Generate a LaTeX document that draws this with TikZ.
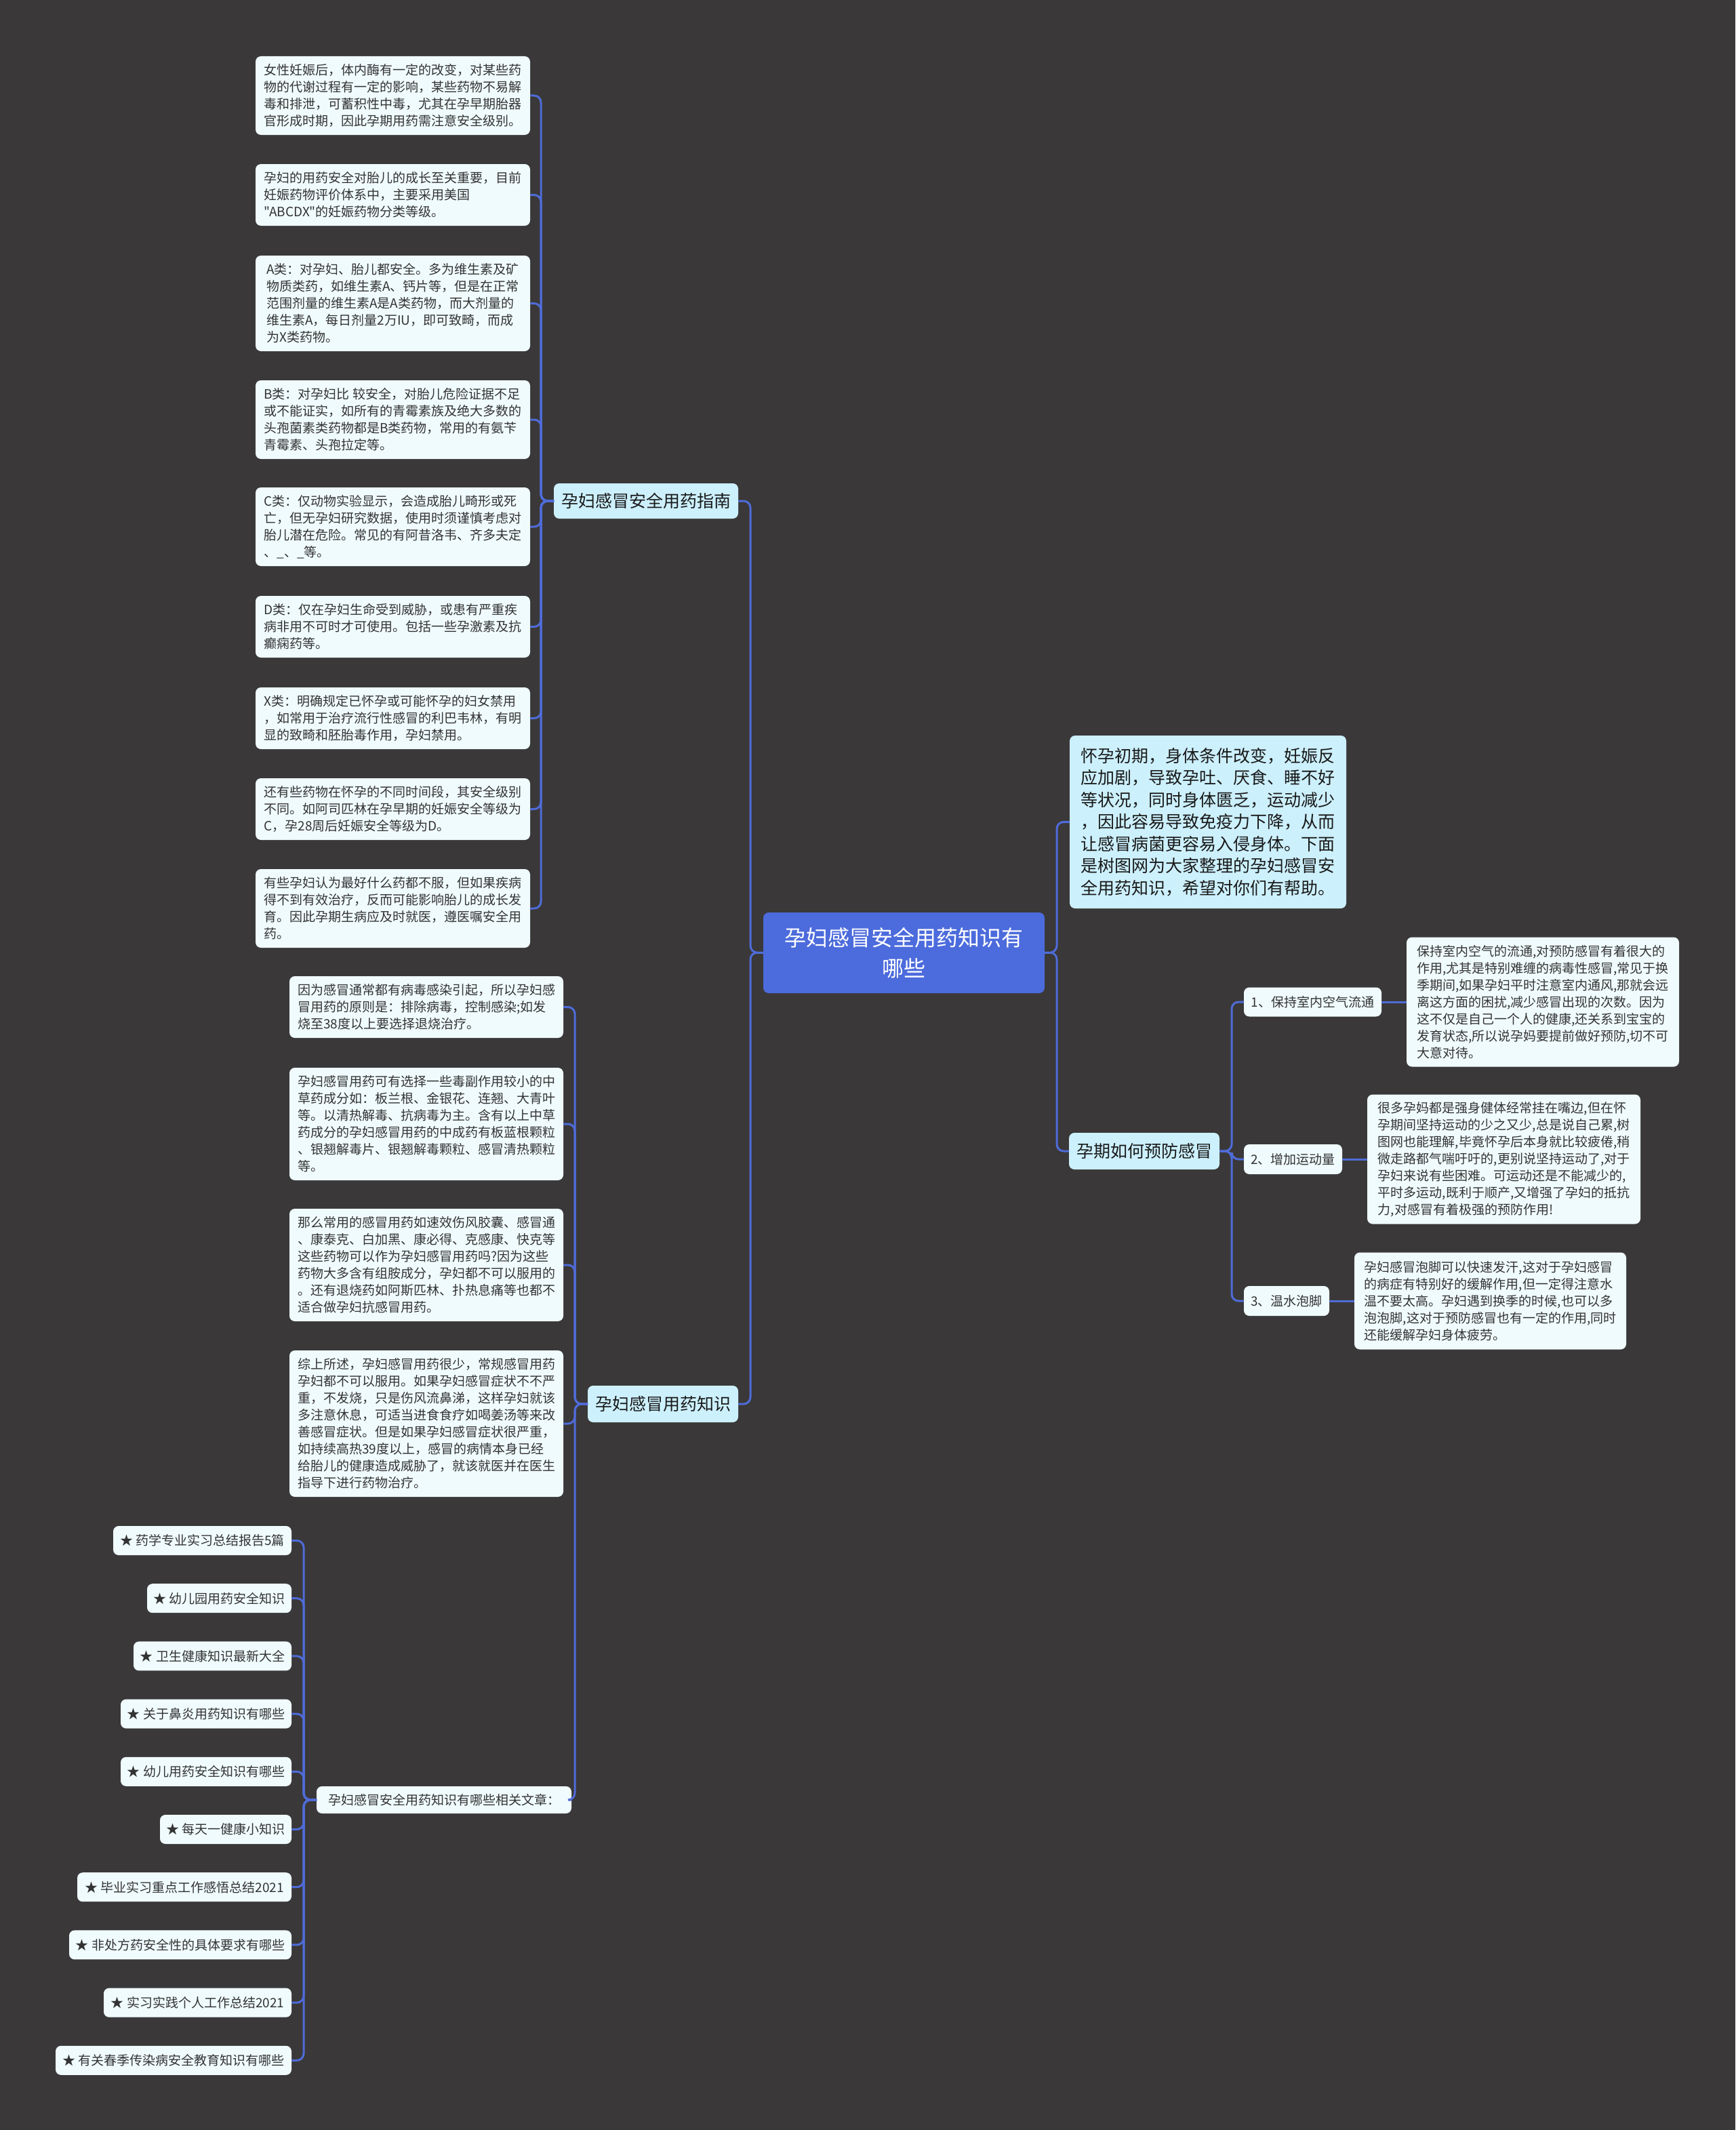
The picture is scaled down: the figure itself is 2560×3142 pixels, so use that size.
\documentclass[tikz,border=0pt]{standalone}
\usepackage{fontspec}
\setmainfont{Noto Sans CJK SC}[Ligatures=TeXOff]
\definecolor{bgc}{HTML}{3A3839}
\definecolor{leaff}{HTML}{F0FBFD}
\definecolor{lvf}{HTML}{CCF0FC}
\definecolor{rootf}{HTML}{4C6BDC}
\definecolor{linec}{HTML}{4F6CD8}
\definecolor{txt}{HTML}{333333}
\begin{document}
\begin{tikzpicture}[x=1pt,y=-1pt,
  box/.style={rounded corners=8pt, inner sep=0pt, outer sep=0pt, align=left},
  leaf/.style={box, fill=leaff, text=txt, font=\fontsize{19}{25}\selectfont},
  lvl/.style={box, fill=lvf, text=black!90, font=\fontsize{25}{32.5}\selectfont},
  rootn/.style={box, fill=rootf, text=white, align=center, font=\fontsize{32}{45}\selectfont},
  conn/.style={draw=linec, line width=3pt, rounded corners=10pt}]
\useasboundingbox (0,0) rectangle (2560,3142);
\fill[bgc] (0,0) rectangle (2560,3142);

% root
\node[rootn, anchor=north west, minimum width=415pt, minimum height=119pt] (root) at (1126,1346) {孕妇感冒安全用药知识有\\哪些};

% level 1
\node[lvl, anchor=west, minimum width=272pt, minimum height=52pt] (b1) at (817,739) {孕妇感冒安全用药指南};
\node[lvl, anchor=west, minimum width=222pt, minimum height=54pt] (b2) at (867,2071) {孕妇感冒用药知识};
\node[lvl, anchor=west, minimum width=222pt, minimum height=54pt] (b3) at (1577,1698) {孕期如何预防感冒};
\node[lvl, anchor=north west, minimum width=408pt, minimum height=255pt] (hot) at (1578,1085) {怀孕初期，身体条件改变，妊娠反\\应加剧，导致孕吐、厌食、睡不好\\等状况，同时身体匮乏，运动减少\\，因此容易导致免疫力下降，从而\\让感冒病菌更容易入侵身体。下面\\是树图网为大家整理的孕妇感冒安\\全用药知识，希望对你们有帮助。};

% branch 1 leaves
\node[leaf, anchor=north west, minimum width=405pt, minimum height=116pt] (a1) at (377,83) {女性妊娠后，体内酶有一定的改变，对某些药\\物的代谢过程有一定的影响，某些药物不易解\\毒和排泄，可蓄积性中毒，尤其在孕早期胎器\\官形成时期，因此孕期用药需注意安全级别。};
\node[leaf, anchor=north west, minimum width=405pt, minimum height=91pt] (a2) at (377,242) {孕妇的用药安全对胎儿的成长至关重要，目前\\妊娠药物评价体系中，主要采用美国\\"ABCDX"的妊娠药物分类等级。};
\node[leaf, anchor=north west, minimum width=405pt, minimum height=141pt] (a3) at (377,377) {A类：对孕妇、胎儿都安全。多为维生素及矿\\物质类药，如维生素A、钙片等，但是在正常\\范围剂量的维生素A是A类药物，而大剂量的\\维生素A，每日剂量2万IU，即可致畸，而成\\为X类药物。};
\node[leaf, anchor=north west, minimum width=405pt, minimum height=116pt] (a4) at (377,561) {B类：对孕妇比 较安全，对胎儿危险证据不足\\或不能证实，如所有的青霉素族及绝大多数的\\头孢菌素类药物都是B类药物，常用的有氨苄\\青霉素、头孢拉定等。};
\node[leaf, anchor=north west, minimum width=405pt, minimum height=116pt] (a5) at (377,719) {C类：仅动物实验显示，会造成胎儿畸形或死\\亡，但无孕妇研究数据，使用时须谨慎考虑对\\胎儿潜在危险。常见的有阿昔洛韦、齐多夫定\\、\_、\_等。};
\node[leaf, anchor=north west, minimum width=405pt, minimum height=91pt] (a6) at (377,879) {D类：仅在孕妇生命受到威胁，或患有严重疾\\病非用不可时才可使用。包括一些孕激素及抗\\癫痫药等。};
\node[leaf, anchor=north west, minimum width=405pt, minimum height=91pt] (a7) at (377,1014) {X类：明确规定已怀孕或可能怀孕的妇女禁用\\，如常用于治疗流行性感冒的利巴韦林，有明\\显的致畸和胚胎毒作用，孕妇禁用。};
\node[leaf, anchor=north west, minimum width=405pt, minimum height=91pt] (a8) at (377,1148) {还有些药物在怀孕的不同时间段，其安全级别\\不同。如阿司匹林在孕早期的妊娠安全等级为\\C，孕28周后妊娠安全等级为D。};
\node[leaf, anchor=north west, minimum width=405pt, minimum height=116pt] (a9) at (377,1282) {有些孕妇认为最好什么药都不服，但如果疾病\\得不到有效治疗，反而可能影响胎儿的成长发\\育。因此孕期生病应及时就医，遵医嘱安全用\\药。};

% branch 2 leaves
\node[leaf, anchor=north west, minimum width=404pt, minimum height=91pt] (c1) at (427,1440) {因为感冒通常都有病毒感染引起，所以孕妇感\\冒用药的原则是：排除病毒，控制感染;如发\\烧至38度以上要选择退烧治疗。};
\node[leaf, anchor=north west, minimum width=404pt, minimum height=166pt] (c2) at (427,1575) {孕妇感冒用药可有选择一些毒副作用较小的中\\草药成分如：板兰根、金银花、连翘、大青叶\\等。以清热解毒、抗病毒为主。含有以上中草\\药成分的孕妇感冒用药的中成药有板蓝根颗粒\\、银翘解毒片、银翘解毒颗粒、感冒清热颗粒\\等。};
\node[leaf, anchor=north west, minimum width=404pt, minimum height=166pt] (c3) at (427,1783) {那么常用的感冒用药如速效伤风胶囊、感冒通\\、康泰克、白加黑、康必得、克感康、快克等\\这些药物可以作为孕妇感冒用药吗?因为这些\\药物大多含有组胺成分，孕妇都不可以服用的\\。还有退烧药如阿斯匹林、扑热息痛等也都不\\适合做孕妇抗感冒用药。};
\node[leaf, anchor=north west, minimum width=404pt, minimum height=216pt] (c4) at (427,1992) {综上所述，孕妇感冒用药很少，常规感冒用药\\孕妇都不可以服用。如果孕妇感冒症状不不严\\重，不发烧，只是伤风流鼻涕，这样孕妇就该\\多注意休息，可适当进食食疗如喝姜汤等来改\\善感冒症状。但是如果孕妇感冒症状很严重，\\如持续高热39度以上，感冒的病情本身已经\\给胎儿的健康造成威胁了，就该就医并在医生\\指导下进行药物治疗。};
\node[leaf, anchor=east, minimum width=376pt, minimum height=40pt] (c5) at (843,2655) {孕妇感冒安全用药知识有哪些相关文章：};

% related articles
\node[leaf, anchor=east, minimum width=263pt, minimum height=43pt] (r1) at (430,2272.5) {★ 药学专业实习总结报告5篇};
\node[leaf, anchor=east, minimum width=213pt, minimum height=43pt] (r2) at (430,2357.7) {★ 幼儿园用药安全知识};
\node[leaf, anchor=east, minimum width=233pt, minimum height=43pt] (r3) at (430,2442.9) {★ 卫生健康知识最新大全};
\node[leaf, anchor=east, minimum width=252pt, minimum height=43pt] (r4) at (430,2528.1) {★ 关于鼻炎用药知识有哪些};
\node[leaf, anchor=east, minimum width=252pt, minimum height=43pt] (r5) at (430,2613.3) {★ 幼儿用药安全知识有哪些};
\node[leaf, anchor=east, minimum width=194pt, minimum height=43pt] (r6) at (430,2698.5) {★ 每天一健康小知识};
\node[leaf, anchor=east, minimum width=316pt, minimum height=43pt] (r7) at (430,2783.7) {★ 毕业实习重点工作感悟总结2021};
\node[leaf, anchor=east, minimum width=328pt, minimum height=43pt] (r8) at (430,2868.9) {★ 非处方药安全性的具体要求有哪些};
\node[leaf, anchor=east, minimum width=277pt, minimum height=43pt] (r9) at (430,2954.1) {★ 实习实践个人工作总结2021};
\node[leaf, anchor=east, minimum width=348pt, minimum height=43pt] (r10) at (430,3039.3) {★ 有关春季传染病安全教育知识有哪些};

% right side
\node[leaf, anchor=west, minimum width=203pt, minimum height=43pt] (s1) at (1835,1478) {1、保持室内空气流通};
\node[leaf, anchor=west, minimum width=145pt, minimum height=44pt] (s2) at (1835,1710) {2、增加运动量};
\node[leaf, anchor=west, minimum width=126pt, minimum height=44pt] (s3) at (1835,1919) {3、温水泡脚};
\node[leaf, anchor=west, minimum width=402pt, minimum height=191pt] (d1) at (2075,1478) {保持室内空气的流通,对预防感冒有着很大的\\作用,尤其是特别难缠的病毒性感冒,常见于换\\季期间,如果孕妇平时注意室内通风,那就会远\\离这方面的困扰,减少感冒出现的次数。因为\\这不仅是自己一个人的健康,还关系到宝宝的\\发育状态,所以说孕妈要提前做好预防,切不可\\大意对待。};
\node[leaf, anchor=west, minimum width=403pt, minimum height=191pt] (d2) at (2017,1710) {很多孕妈都是强身健体经常挂在嘴边,但在怀\\孕期间坚持运动的少之又少,总是说自己累,树\\图网也能理解,毕竟怀孕后本身就比较疲倦,稍\\微走路都气喘吁吁的,更别说坚持运动了,对于\\孕妇来说有些困难。可运动还是不能减少的,\\平时多运动,既利于顺产,又增强了孕妇的抵抗\\力,对感冒有着极强的预防作用!};
\node[leaf, anchor=west, minimum width=401pt, minimum height=143pt] (d3) at (1998,1919) {孕妇感冒泡脚可以快速发汗,这对于孕妇感冒\\的病症有特别好的缓解作用,但一定得注意水\\温不要太高。孕妇遇到换季的时候,也可以多\\泡泡脚,这对于预防感冒也有一定的作用,同时\\还能缓解孕妇身体疲劳。};

% junctions
\coordinate (jl) at (1107,1405);
\coordinate (jr) at (1559,1405);
\coordinate (j1) at (798,739);
\coordinate (j2) at (848,2071);
\coordinate (j3) at (448,2655);
\coordinate (j4) at (1817,1698);

% connectors
\draw[conn] (root.west) -- (jl) |- (b1.east);
\draw[conn] (root.west) -- (jl) |- (b2.east);
\draw[conn] (root.east) -- (jr) |- (hot.west);
\draw[conn] (root.east) -- (jr) |- (b3.west);
\foreach \n in {1,...,9} \draw[conn] (b1.west) -- (j1) |- (a\n.east);
\foreach \n in {1,...,5} \draw[conn] (b2.west) -- (j2) |- (c\n.east);
\foreach \n in {1,...,10} \draw[conn] (c5.west) -- (j3) |- (r\n.east);
\foreach \n in {1,2,3} \draw[conn] (b3.east) -- (j4) |- (s\n.west);
\foreach \n in {1,2,3} \draw[conn] (s\n.east) -- (d\n.west);
\end{tikzpicture}
\end{document}
